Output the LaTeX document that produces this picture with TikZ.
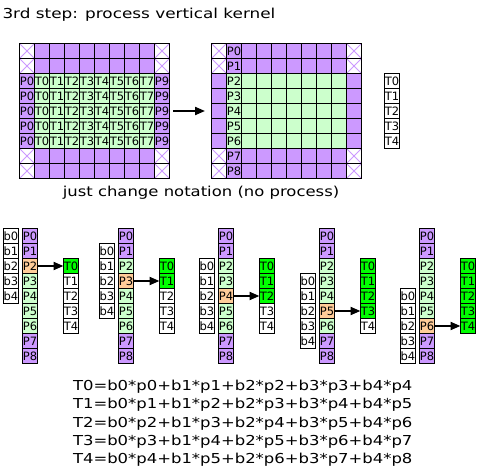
\documentclass[tikz,border=0pt]{standalone}
\usepackage{fontspec}
\setmainfont{DejaVu Sans}
\newfontfamily\wfont[FakeStretch=1.2]{DejaVu Sans}
\newfontfamily\wwfont[FakeStretch=1.23]{DejaVu Sans}
\usetikzlibrary{arrows.meta,calc}
\definecolor{pur}{HTML}{CC99FF}
\definecolor{lgr}{HTML}{CCFFCC}
\definecolor{org}{HTML}{FFCC99}
\definecolor{bgr}{HTML}{00FF00}
\tikzset{
  cell/.style={draw=black, line width=1pt, minimum width=15pt, minimum height=15pt,
    inner sep=0pt, outer sep=0pt, anchor=north west, font=\fontsize{11.5}{11.5}\selectfont},
  pcell/.style={cell, fill=pur},
  gcell/.style={cell, fill=lgr},
  ocell/.style={cell, fill=org},
  tcell/.style={cell, fill=bgr},
  wcell/.style={cell, fill=white},
  xcell/.style={cell, fill=white, path picture={
      \draw[pur, line width=0.8pt] (path picture bounding box.north west) -- (path picture bounding box.south east)
        (path picture bounding box.north east) -- (path picture bounding box.south west);}},
  arr/.style={line width=2pt, -{Triangle[length=10pt,width=8pt]}},
  bigtext/.style={font=\wfont\fontsize{13.7}{16}\selectfont, inner sep=0pt, outer sep=0pt},
}
\begin{document}
\begin{tikzpicture}[x=1pt,y=-1pt]
\useasboundingbox[fill=white] (0,0) rectangle (480,468);

\node[bigtext, font=\wwfont\fontsize{13.7}{16}\selectfont, anchor=base west] (title) at (2.5,19) {3rd step: process vertical kernel};

% left grid
\foreach \r in {0,...,8}{
  \foreach \c in {0,...,9}{
    \pgfmathtruncatemacro{\tidx}{\c-1}
    \pgfmathtruncatemacro{\midrow}{(\r>1)&&(\r<7)}
    \pgfmathtruncatemacro{\sidecol}{(\c==0)||(\c==9)}
    \ifnum\midrow=1
      \ifnum\sidecol=1 \def\sty{pcell}\ifnum\c=0 \def\lab{P0}\else\def\lab{P9}\fi
      \else \def\sty{gcell}\edef\lab{T\tidx}\fi
    \else
      \ifnum\sidecol=1 \def\sty{xcell}\else\def\sty{pcell}\fi
      \def\lab{}
    \fi
    \node[\sty] (L-\r-\c) at (19.5+15*\c, 43.5+15*\r) {\lab};
  }
}

% right grid
\foreach \r in {0,...,8}{
  \foreach \c in {0,...,9}{
    \pgfmathtruncatemacro{\midrow}{(\r>1)&&(\r<7)}
    \pgfmathtruncatemacro{\sidecol}{(\c==0)||(\c==9)}
    \def\lab{}
    \ifnum\midrow=1
      \ifnum\sidecol=1 \def\sty{pcell}\else\def\sty{gcell}\fi
    \else
      \ifnum\sidecol=1 \def\sty{xcell}\else\def\sty{pcell}\fi
    \fi
    \ifnum\c=1 \edef\lab{P\r}\fi
    \node[\sty] (R-\r-\c) at (211.5+15*\c, 43.5+15*\r) {\lab};
  }
}

\draw[arr, shorten <=3.8pt, shorten >=6.5pt] (L-4-9.east) -- (R-4-0.west);

% T column top right
\foreach \j in {0,...,4}{
  \node[wcell] (Tc-\j) at (384.5, 73.5+15*\j) {T\j};
}

\node[bigtext, anchor=base] (note) at (201,197) {just change notation (no process)};

% bottom groups
\foreach \g/\px in {0/22.5,1/118.5,2/218.5,3/319.5,4/419.5}{
  \pgfmathtruncatemacro{\hot}{\g+2}
  \foreach \i in {0,...,8}{
    \def\sty{gcell}
    \ifnum\i<2 \def\sty{pcell}\fi
    \ifnum\i>6 \def\sty{pcell}\fi
    \ifnum\i=\hot \def\sty{ocell}\fi
    \node[\sty] (P\g-\i) at (\px, 228.5+15*\i) {P\i};
  }
  \foreach \j in {0,...,4}{
    \node[wcell] (b\g-\j) at (\px-19, 228.5+15*\g+15*\j) {b\j};
    \def\sty{wcell}
    \ifnum\j<\numexpr\g+1\relax \def\sty{tcell}\fi
    \node[\sty] (T\g-\j) at (\px+41, 258.5+15*\j) {T\j};
  }
  \draw[arr] (P\g-\hot.east) -- (T\g-\g.west);
}

% equations
\node[bigtext, anchor=base west] (eq0) at (73,390.5) {T0=b0*p0+b1*p1+b2*p2+b3*p3+b4*p4};
\node[bigtext, anchor=base west] (eq1) at (73,408.8) {T1=b0*p1+b1*p2+b2*p3+b3*p4+b4*p5};
\node[bigtext, anchor=base west] (eq2) at (73,427.1) {T2=b0*p2+b1*p3+b2*p4+b3*p5+b4*p6};
\node[bigtext, anchor=base west] (eq3) at (73,445.4) {T3=b0*p3+b1*p4+b2*p5+b3*p6+b4*p7};
\node[bigtext, anchor=base west] (eq4) at (73,463.7) {T4=b0*p4+b1*p5+b2*p6+b3*p7+b4*p8};
\end{tikzpicture}
\end{document}
